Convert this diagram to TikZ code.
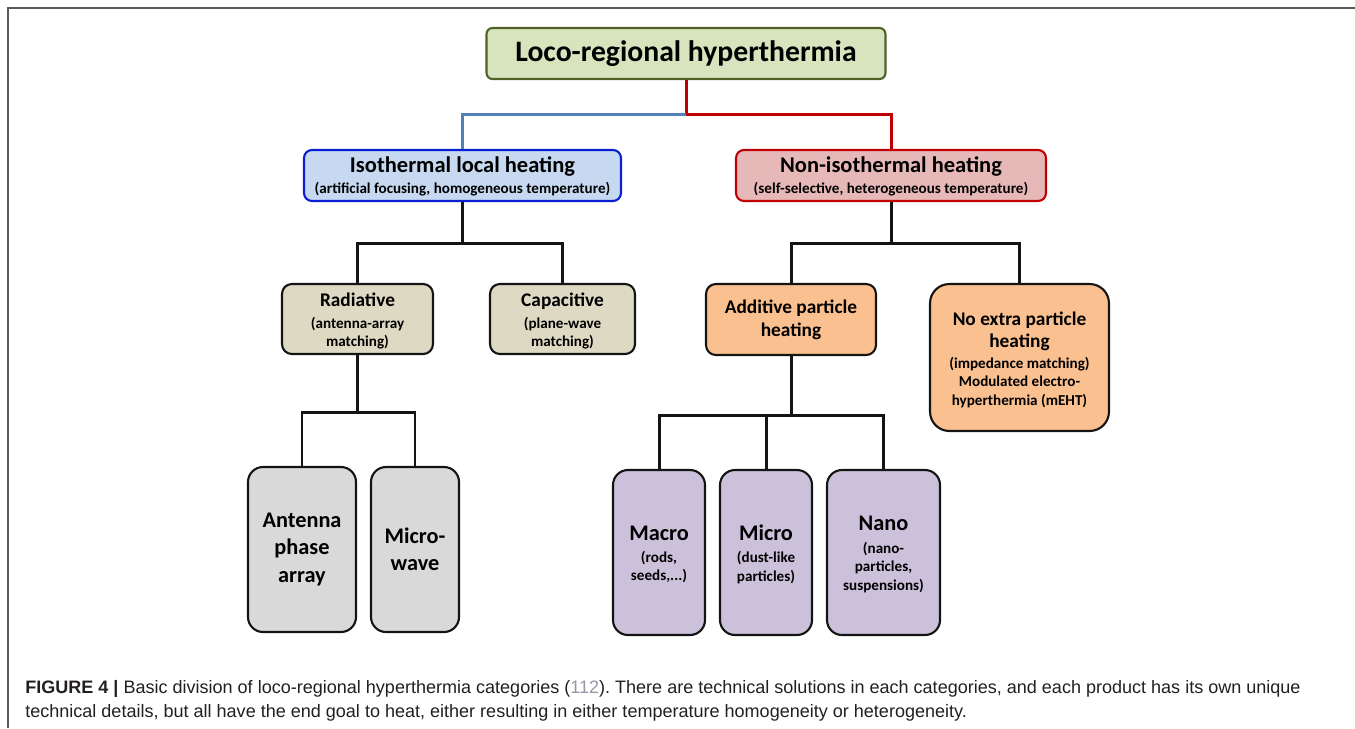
\documentclass[tikz,border=0pt]{standalone}
\usepackage{fontspec}
\setmainfont{Carlito}
\newfontfamily\capfont{Liberation Sans}
\usetikzlibrary{positioning, calc}
\definecolor{rootfill}{RGB}{215,228,189}
\definecolor{rootline}{RGB}{79,98,40}
\definecolor{isofill}{RGB}{198,217,241}
\definecolor{isoline}{RGB}{10,30,210}
\definecolor{nonfill}{RGB}{230,185,184}
\definecolor{nonline}{RGB}{192,0,0}
\definecolor{bluelink}{RGB}{79,129,189}
\definecolor{redlink}{RGB}{192,0,0}
\definecolor{tanfill}{RGB}{221,217,195}
\definecolor{orangefill}{RGB}{250,192,144}
\definecolor{grayfill}{RGB}{217,217,217}
\definecolor{lilacfill}{RGB}{204,193,218}
\definecolor{boxline}{RGB}{20,20,20}
\definecolor{captext}{RGB}{35,31,32}
\definecolor{capref}{RGB}{150,150,165}
\definecolor{framecol}{RGB}{90,90,90}
\newcommand{\detail}[1]{{\fontsize{8.6}{10.5}\selectfont\begin{tabular}[t]{@{}c@{}}#1\\[-4pt]\end{tabular}}}
\tikzset{
  catbox/.style  = {draw, rounded corners=5.6pt, line width=1.2pt, align=center,
                    inner sep=1pt, font=\bfseries\fontsize{11}{13}\selectfont},
  rootbox/.style = {catbox, draw=rootline, fill=rootfill, rounded corners=3.4pt,
                    font=\bfseries\fontsize{16.9}{18}\selectfont},
  modebox/.style = {catbox, rounded corners=4.5pt, font=\bfseries\fontsize{12.8}{12}\selectfont},
  methbox/.style = {catbox, draw=boxline},
  leafbox/.style = {catbox, draw=boxline, rounded corners=8.5pt,
                    font=\bfseries\fontsize{12.7}{15.6}\selectfont},
  link/.style    = {line width=1.7pt, boxline},
}

\begin{document}
\begin{tikzpicture}[x=0.02cm, y=-0.02cm]
  \useasboundingbox (0,0) rectangle (1355,728);
  \draw[framecol, line width=1.3pt] (8,728) -- (8,8) -- (1355,8);
  % main categories
  \node[rootbox, minimum width=7.98cm, minimum height=1.02cm] (root) at (686,53.5)
    {Loco-regional hyperthermia};
  \node[modebox, draw=isoline, fill=isofill, minimum width=6.34cm, minimum height=1.02cm]
    (iso) at (462.5,175.5)
    {Isothermal local heating\\\detail{(artificial focusing, homogeneous temperature)}};
  \node[modebox, draw=nonline, fill=nonfill, minimum width=6.2cm, minimum height=1.02cm]
    (noniso) at (891,175.5)
    {Non-isothermal heating\\\detail{(self-selective, heterogeneous temperature)}};
  % heating methods
  \node[methbox, fill=tanfill, minimum width=3.02cm, minimum height=1.4cm] (rad) at (357.5,319)
    {Radiative\\[-0.5pt]\detail{(antenna-array\\matching)}};
  \node[methbox, fill=tanfill, minimum width=2.9cm, minimum height=1.4cm] (cap) at (562.5,319)
    {Capacitive\\[-0.5pt]\detail{(plane-wave\\matching)}};
  \node[methbox, fill=orangefill, minimum width=3.4cm, minimum height=1.42cm] (add) at (791,319.5)
    {Additive particle\\heating};
  \node[methbox, fill=orangefill, rounded corners=11pt, minimum width=3.58cm, minimum height=2.94cm]
    (noextra) at (1019.5,357.5)
    {No extra particle\\heating\\[-1.5pt]\detail{(impedance matching)\\Modulated electro-\\hyperthermia (mEHT)}};
  % devices
  \node[leafbox, fill=grayfill, minimum width=2.16cm, minimum height=3.3cm] (ant) at (302,549.5)
    {Antenna\\phase\\array};
  \node[leafbox, fill=grayfill, minimum width=1.76cm, minimum height=3.3cm] (mw) at (415,549.5)
    {Micro-\\wave};
  \foreach \nm/\cx/\bw/\txt in {macro/659/1.84/{Macro\\[-3pt]\detail{(rods,\\seeds,...)}},
                                micro/766/1.84/{Micro\\[-3pt]\detail{(dust-like\\particles)}},
                                nano/883.5/2.26/{Nano\\[-3pt]\detail{(nano-\\particles,\\suspensions)}}} {
    \node[leafbox, fill=lilacfill, minimum width=\bw cm, minimum height=3.3cm] (\nm) at (\cx,552.5) {\txt};
  }
  % connectors
  \coordinate (split) at (686,114);
  \draw[link, redlink] (root.south) -- (split) -| (noniso.north);
  \draw[link, bluelink] (split) -| (iso.north);
  \foreach \kid in {rad, cap} \draw[link] (iso.south) -- ++(0,41) -| (\kid.north);
  \foreach \kid in {add, noextra} \draw[link] (noniso.south) -- ++(0,41) -| (\kid.north);
  \foreach \kid in {ant, mw} \draw[link] (rad.south) -- ++(0,57) -| (\kid.north);
  \foreach \kid in {macro, micro, nano} \draw[link] (add.south) -- ++(0,59) -| (\kid.north);
  % caption
  \node[anchor=north west, align=left, inner sep=0pt, text=captext,
        font=\capfont\fontsize{10.26}{13.6}\selectfont\frenchspacing] (caption) at (25,680)
    {\textbf{FIGURE 4 |} Basic division of loco-regional hyperthermia categories ({\color{capref}112}). There are technical solutions in each categories, and each product has its own unique\\
     technical details, but all have the end goal to heat, either resulting in either temperature homogeneity or heterogeneity.};
\end{tikzpicture}
\end{document}
